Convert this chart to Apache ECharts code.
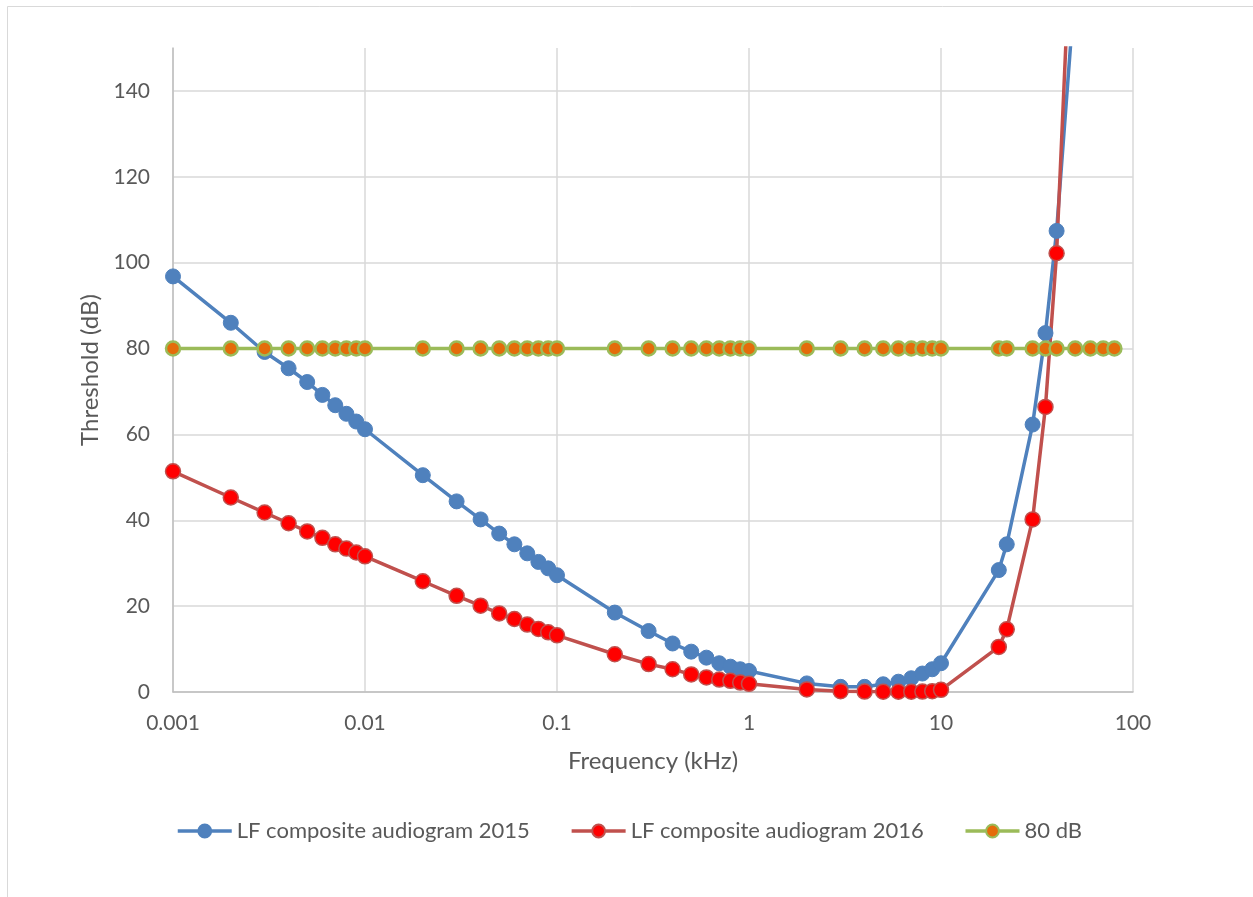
<!DOCTYPE html>
<html>
<head>
<meta charset="utf-8">
<script src="https://cdn.jsdelivr.net/npm/echarts@6/dist/echarts.min.js"></script>
<style>html,body{margin:0;padding:0;background:#fff}#c{width:1253px;height:897px}</style>
</head>
<body>
<div id="c"></div>
<script>
const freqs = [0.001,0.002,0.003,0.004,0.005,0.006,0.007,0.008,0.009,
  0.01,0.02,0.03,0.04,0.05,0.06,0.07,0.08,0.09,
  0.1,0.2,0.3,0.4,0.5,0.6,0.7,0.8,0.9,
  1,2,3,4,5,6,7,8,9,
  10,20,22,30,35,40,50];
const audiogram2015 = [96.8,86.0,79.2,75.4,72.2,69.2,66.8,64.8,63.0,
  61.2,50.5,44.4,40.2,36.9,34.4,32.3,30.3,28.8,
  27.2,18.5,14.2,11.3,9.4,8.0,6.7,5.9,5.3,
  4.9,2.0,1.2,1.2,1.8,2.4,3.2,4.3,5.3,
  6.7,28.4,34.4,62.3,83.6,107.4,165];
const audiogram2016 = [51.4,45.3,41.8,39.3,37.4,35.9,34.4,33.4,32.5,
  31.6,25.8,22.4,20.1,18.3,17.0,15.7,14.7,13.9,
  13.2,8.8,6.5,5.3,4.1,3.4,2.9,2.6,2.2,
  1.9,0.6,0.2,0.1,0.05,0.05,0.05,0.1,0.2,
  0.5,10.5,14.6,40.2,66.4,102.2,200];
const freqs80 = [0.001,0.002,0.003,0.004,0.005,0.006,0.007,0.008,0.009,
  0.01,0.02,0.03,0.04,0.05,0.06,0.07,0.08,0.09,
  0.1,0.2,0.3,0.4,0.5,0.6,0.7,0.8,0.9,
  1,2,3,4,5,6,7,8,9,
  10,20,22,30,35,40,50,60,70,80];
const level80 = freqs80.map(() => 80);
const yTicks = [0,20,40,60,80,100,120,140];
const xTickLabels = ['0.001','0.01','0.1','1','10','100'];
const names = ['LF composite audiogram 2015','LF composite audiogram 2016','80 dB'];

const pair = (xs, ys) => xs.map((x, i) => [x, ys[i]]);
const FONT = 'Lato';
const chart = echarts.init(document.getElementById('c'), null, {renderer: 'canvas'});
const gridColors = yTicks.map(() => '#d9d9d9').concat(['rgba(0,0,0,0)']);
chart.setOption({
  animation: false,
  backgroundColor: '#fff',
  textStyle: {fontFamily: FONT, color: '#595959'},
  graphic: [{
    type: 'rect', shape: {x: 7.5, y: 6.5, width: 1400, height: 1000},
    style: {fill: 'none', stroke: '#d9d9d9', lineWidth: 1}, silent: true
  }],
  grid: {left: 173, right: 120, top: 48, bottom: 205, containLabel: false},
  legend: {
    data: names, left: 171, top: 815, itemWidth: 54, itemHeight: 16, itemGap: 40,
    lineStyle: {width: 3.5},
    textStyle: {fontFamily: FONT, fontSize: 22, color: '#595959'}
  },
  xAxis: {
    type: 'log', logBase: 10, min: 0.001, max: 100,
    name: 'Frequency (kHz)', nameLocation: 'middle', nameGap: 57,
    nameTextStyle: {fontFamily: FONT, fontSize: 24, color: '#595959'},
    axisLine: {show: true, lineStyle: {color: '#bfbfbf', width: 1.5}},
    axisTick: {show: false},
    minorTick: {show: false}, minorSplitLine: {show: false},
    splitLine: {show: true, lineStyle: {color: '#d9d9d9', width: 1.5}},
    axisLabel: {
      fontFamily: FONT, fontSize: 21, color: '#595959', margin: 21,
      formatter: v => {
        const k = Math.round(Math.log10(v)) + 3;
        return xTickLabels[k] !== undefined ? xTickLabels[k] : '';
      }
    }
  },
  yAxis: {
    type: 'value', min: 0, max: 150, interval: 20,
    name: 'Threshold (dB)', nameLocation: 'middle', nameGap: 70,
    nameTextStyle: {fontFamily: FONT, fontSize: 24, color: '#595959'},
    axisLine: {show: true, lineStyle: {color: '#bfbfbf', width: 1.5}},
    axisTick: {show: false},
    splitLine: {show: true, lineStyle: {color: gridColors, width: 1.5}},
    axisLabel: {
      fontFamily: FONT, fontSize: 21, color: '#595959', margin: 23,
      formatter: v => yTicks.indexOf(v) >= 0 ? String(v) : ''
    }
  },
  series: [
    {
      name: names[0], type: 'line', data: pair(freqs, audiogram2015),
      smooth: false, clip: true,
      symbol: 'circle', symbolSize: 15,
      lineStyle: {color: '#4f81bd', width: 3.5},
      itemStyle: {color: '#4f81bd', borderColor: '#4f81bd', borderWidth: 1}
    },
    {
      name: names[1], type: 'line', data: pair(freqs, audiogram2016),
      smooth: false, clip: true,
      symbol: 'circle', symbolSize: 15,
      lineStyle: {color: '#c0504d', width: 3.5},
      itemStyle: {color: '#ff0000', borderColor: '#c0504d', borderWidth: 1.5}
    },
    {
      name: names[2], type: 'line', data: pair(freqs80, level80),
      clip: true, symbol: 'circle', symbolSize: 14,
      lineStyle: {color: '#9bbb59', width: 3.5},
      itemStyle: {color: '#e46c0a', borderColor: '#9bbb59', borderWidth: 2.5}
    }
  ]
});
</script>
</body>
</html>
